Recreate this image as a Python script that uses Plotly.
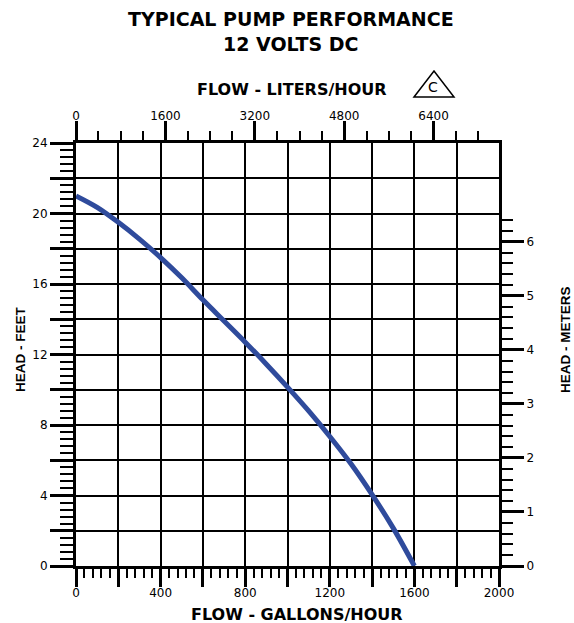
import plotly.graph_objects as go

# ---- data ----
flow_gph = [0, 100, 200, 300, 400, 500, 600, 700, 800, 900, 1000, 1100, 1200, 1300, 1400, 1500, 1600]
head_ft = [21.0, 20.35, 19.5, 18.55, 17.5, 16.35, 15.1, 13.9, 12.7, 11.45, 10.15, 8.8, 7.35, 5.8, 4.05, 2.15, 0.0]

gph_ticks = [0, 200, 400, 600, 800, 1000, 1200, 1400, 1600, 1800, 2000]
gph_labels = ["0", "", "400", "", "800", "", "1200", "", "1600", "", "2000"]
lph_ticks = [0, 1600, 3200, 4800, 6400]
lph_labels = ["0", "1600", "3200", "4800", "6400"]
ft_ticks = [0, 2, 4, 6, 8, 10, 12, 14, 16, 18, 20, 22, 24]
ft_labels = ["0", "", "4", "", "8", "", "12", "", "16", "", "20", "", "24"]
m_ticks = [0, 1, 2, 3, 4, 5, 6]
m_labels = ["0", "1", "2", "3", "4", "5", "6"]

GPH_MAX = 2000
LPH_MAX = 7570
FT_MAX = 24
M_MAX = 7.83

# window geometry (body margin removed by post_script)
W, H = 574, 623
L, R, T, B = 76, 499, 143, 566
PW, PH = R - L, B - T


def fx(px):
    return (px - L) / PW


def fy(py):
    return (B - py) / PH


tick_font = dict(family="DejaVu Sans", size=12, color="black")
wide_bold = "DejaVu Sans"
narrow_bold = "Liberation Sans"

fig = go.Figure()
fig.add_trace(go.Scatter(
    x=flow_gph, y=head_ft, mode="lines",
    line=dict(color="#2f4b9c", width=5, shape="spline", smoothing=1.0),
    hoverinfo="skip", showlegend=False))
fig.add_trace(go.Scatter(
    x=[0], y=[0], xaxis="x2", yaxis="y2", mode="markers",
    marker=dict(opacity=0), hoverinfo="skip", showlegend=False))

minor_lph = [v for v in range(400, 7600, 400) if v % 1600 != 0]
minor_m = [round(i * 0.2, 1) for i in range(1, 33) if i % 5 != 0]

fig.update_layout(
    width=W, height=H,
    margin=dict(l=L, r=W - R, t=T, b=H - B, pad=0),
    paper_bgcolor="white", plot_bgcolor="white",
    xaxis=dict(
        range=[0, GPH_MAX], tickmode="array", tickvals=gph_ticks, ticktext=gph_labels,
        ticks="outside", ticklen=18, tickwidth=3, tickcolor="black",
        showgrid=True, gridcolor="black", gridwidth=2,
        showline=True, linecolor="black", linewidth=3,
        zeroline=False, tickfont=tick_font, ticklabelstandoff=-4,
        minor=dict(dtick=40, tick0=0, ticks="outside", ticklen=9, tickwidth=2, tickcolor="black", showgrid=False),
    ),
    xaxis2=dict(
        range=[0, LPH_MAX], overlaying="x", side="top", anchor="y",
        tickmode="array", tickvals=lph_ticks, ticktext=lph_labels,
        ticks="outside", ticklen=19, tickwidth=3, tickcolor="black",
        showgrid=False, zeroline=False,
        showline=True, linecolor="black", linewidth=3,
        tickfont=tick_font, ticklabelstandoff=-4,
        minor=dict(tickmode="array", tickvals=minor_lph, ticks="outside", ticklen=9, tickwidth=2, tickcolor="black", showgrid=False),
    ),
    yaxis=dict(
        range=[0, FT_MAX], tickmode="array", tickvals=ft_ticks, ticktext=ft_labels,
        ticks="outside", ticklen=23, tickwidth=3, tickcolor="black",
        showgrid=True, gridcolor="black", gridwidth=2,
        showline=True, linecolor="black", linewidth=3,
        zeroline=False, tickfont=tick_font,
        minor=dict(dtick=0.4, tick0=0, ticks="outside", ticklen=13, tickwidth=2, tickcolor="black", showgrid=False),
    ),
    yaxis2=dict(
        range=[0, M_MAX], overlaying="y", side="right", anchor="x",
        tickmode="array", tickvals=m_ticks, ticktext=m_labels,
        ticks="outside", ticklen=22, tickwidth=3, tickcolor="black",
        showgrid=False, zeroline=False,
        showline=True, linecolor="black", linewidth=3,
        tickfont=tick_font,
        minor=dict(tickmode="array", tickvals=minor_m, ticks="outside", ticklen=11, tickwidth=2, tickcolor="black", showgrid=False),
    ),
)

ann = [
    dict(text="<b>TYPICAL PUMP PERFORMANCE</b>", x=fx(291), y=fy(19), size=19),
    dict(text="<b>12 VOLTS DC</b>", x=fx(291), y=fy(44), size=19),
    dict(text="<b>FLOW - LITERS/HOUR</b>", x=fx(292), y=fy(89), size=16),
    dict(text="<b>FLOW - GALLONS/HOUR</b>", x=fx(297), y=fy(614), size=16),
]
for a in ann:
    fig.add_annotation(text=a["text"], x=a["x"], y=a["y"], xref="paper", yref="paper",
                       showarrow=False, xanchor="center", yanchor="middle",
                       font=dict(family=wide_bold, size=a["size"], color="black"))

fig.add_annotation(text="<b>HEAD - FEET</b>", x=fx(20), y=fy(349), xref="paper", yref="paper",
                   showarrow=False, textangle=-90, xanchor="center", yanchor="middle",
                   font=dict(family=narrow_bold, size=13.5, color="black"))
fig.add_annotation(text="<b>HEAD - METERS</b>", x=fx(565), y=fy(340), xref="paper", yref="paper",
                   showarrow=False, textangle=-90, xanchor="center", yanchor="middle",
                   font=dict(family=narrow_bold, size=13.5, color="black"))

# triangle-C mark
tx = [fx(414), fx(434), fx(454)]
ty = [fy(97), fy(71), fy(97)]
fig.add_shape(type="path", xref="paper", yref="paper",
              path=f"M {tx[0]} {ty[0]} L {tx[1]} {ty[1]} L {tx[2]} {ty[2]} Z",
              line=dict(color="black", width=1.5), fillcolor="rgba(0,0,0,0)")
fig.add_annotation(text="C", x=fx(433), y=fy(87), xref="paper", yref="paper",
                   showarrow=False, xanchor="center", yanchor="middle",
                   font=dict(family="DejaVu Sans", size=14, color="black"))

fig.write_html(
    "out.html",
    config={"displayModeBar": False, "staticPlot": True},
    post_script="document.documentElement.style.margin='0';document.body.style.margin='0';"
                "document.documentElement.style.overflow='hidden';document.body.style.overflow='hidden';",
)
